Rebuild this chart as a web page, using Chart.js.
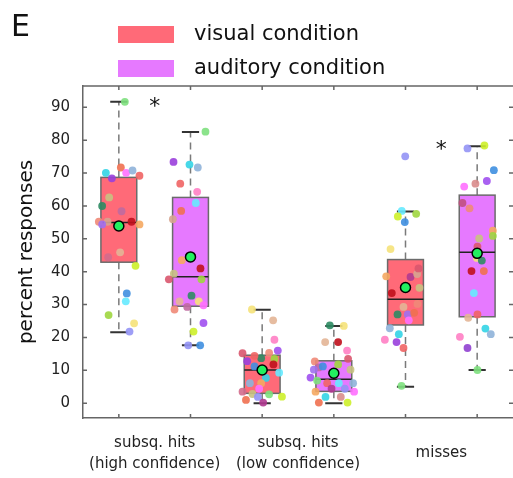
<!DOCTYPE html>
<html>
<head>
<meta charset="utf-8">
<script src="https://cdn.jsdelivr.net/npm/chart.js@4.4.1/dist/chart.umd.min.js"></script>
<style>
  html, body { margin: 0; padding: 0; background: #fff; }
  #wrap { width: 513px; height: 478px; }
</style>
</head>
<body>
<div id="wrap"><canvas id="chart"></canvas></div>
<script>
// categories and conditions
var categories = [["subsq. hits", "(high confidence)"], ["subsq. hits", "(low confidence)"], "misses"];
var conditions = ["visual condition", "auditory condition"];
var yTicks = [0, 10, 20, 30, 40, 50, 60, 70, 80, 90];

// box stats, order: vis/high, aud/high, vis/low, aud/low, vis/misses, aud/misses
var whiskerLow  = [21.6, 17.6, 0.0, 0.0, 5.0, 10.1];
var quart1      = [42.9, 29.5, 3.0, 3.6, 23.8, 26.3];
var medians     = [55.0, 38.5, 10.1, 7.3, 31.6, 45.9];
var quart3      = [68.7, 62.6, 14.6, 12.9, 43.7, 63.3];
var whiskerHigh = [91.7, 82.5, 28.4, 23.5, 58.3, 78.2];
var means       = [53.9, 44.5, 10.1, 9.1, 35.2, 45.6];

// significance stars: category index and height
var starCats = [0, 2];
var starVals = [91.3, 78.1];

// single participants (jitter = offset from box centre in axis units)
var ptsVal = [
  [91.7, 71.7, 70.1, 70.1, 70.8, 68.4, 69.2, 62.6, 60.0, 58.4, 55.2, 55.2, 54.4, 55.2, 54.4, 45.9, 44.4, 41.8, 33.4, 31.0, 26.8, 24.3, 21.8],
  [82.6, 73.4, 72.6, 71.7, 66.8, 64.3, 60.9, 58.5, 56.0, 43.5, 41.0, 39.4, 37.7, 37.7, 32.7, 31.0, 31.0, 28.5, 29.3, 29.8, 24.4, 21.8, 17.6, 17.6],
  [28.5, 25.2, 19.3, 16.0, 15.3, 13.7, 13.5, 11.8, 11.2, 9.3, 7.7, 6.1, 4.4, 2.7, 2.0, 2.8, 1.9, 0.2, 15.2, 14.4, 12.8, 6.1, 3.5, 1.0],
  [23.7, 23.5, 18.6, 18.6, 16.0, 13.5, 12.7, 11.8, 10.9, 11.2, 10.2, 10.2, 7.8, 6.9, 6.1, 6.1, 6.1, 4.4, 4.4, 3.5, 3.5, 1.9, 1.9, 0.2, 0.2],
  [75.1, 58.5, 56.8, 57.6, 55.1, 46.9, 38.6, 38.4, 39.3, 41.0, 33.5, 35.1, 29.3, 30.2, 27.0, 27.0, 27.5, 25.2, 22.8, 21.0, 19.3, 18.6, 16.8, 5.3],
  [78.4, 77.5, 70.9, 67.6, 66.8, 65.9, 60.9, 59.3, 52.5, 50.9, 50.1, 47.6, 44.2, 43.4, 40.2, 40.2, 33.5, 27.0, 26.0, 22.7, 21.0, 20.2, 16.8, 10.1]
];
var ptsJitter = [
  [0.084, 0.028, -0.181, 0.102, 0.191, -0.097, 0.288, -0.135, -0.233, 0.038, -0.279, -0.157, -0.233, 0.177, 0.288, 0.018, -0.149, 0.233, 0.111, 0.097, -0.143, 0.213, 0.149],
  [0.209, -0.237, -0.014, 0.102, -0.143, 0.093, 0.074, -0.130, -0.246, -0.121, 0.139, -0.232, -0.302, 0.153, 0.014, -0.153, 0.116, -0.223, -0.046, 0.181, 0.181, 0.042, -0.032, 0.135],
  [-0.143, 0.153, 0.171, 0.218, 0.097, -0.014, 0.171, 0.157, -0.107, 0.237, 0.052, -0.014, -0.042, 0.097, 0.276, -0.135, -0.060, 0.014, -0.274, -0.107, -0.209, -0.171, -0.274, -0.226],
  [-0.056, 0.139, -0.121, 0.060, 0.185, 0.199, -0.265, 0.060, -0.213, -0.153, 0.233, -0.279, -0.325, -0.233, -0.093, 0.070, 0.269, -0.032, 0.153, 0.283, -0.255, -0.116, 0.097, -0.209, 0.191],
  [-0.004, -0.052, -0.107, 0.149, -0.010, -0.209, -0.269, 0.070, 0.163, 0.181, -0.191, 0.195, -0.028, 0.167, -0.111, 0.032, 0.121, 0.046, -0.219, -0.093, -0.288, -0.125, -0.028, -0.056],
  [0.101, -0.135, 0.233, 0.135, -0.024, -0.181, -0.205, -0.107, 0.219, 0.219, 0.028, 0.004, -0.004, 0.065, -0.079, 0.093, -0.046, 0.004, -0.125, 0.115, 0.190, -0.241, -0.135, 0.004]
];
var ptsColor = [
  ["#7ee07e", "#f07050", "#33d4e6", "#ff70ff", "#8fb3d9", "#9a3fdc", "#f06464", "#c8c282", "#2e8b63", "#c06aa0", "#f08a78", "#d6a48f", "#a070f0", "#c0101c", "#f5a862", "#e3b596", "#d36c8c", "#cdf02a", "#3f8fe0", "#66eaff", "#9fd63f", "#f5e27a", "#9393f5"],
  ["#7ee07e", "#9a3fdc", "#33d4e6", "#8fb3d9", "#f06464", "#ff7fc4", "#66eaff", "#f07050", "#d6a48f", "#f5a862", "#c0101c", "#c8c282", "#d9566e", "#9fd63f", "#2e8b63", "#e3b596", "#f5e27a", "#f08a78", "#c06aa0", "#ff70ff", "#a050f0", "#cdf02a", "#9393f5", "#3f8fe0"],
  ["#f5e27a", "#e3b596", "#ff7fc4", "#a050f0", "#f08a78", "#2e8b63", "#9fd63f", "#c0101c", "#3f8fe0", "#66eaff", "#33d4e6", "#f5a862", "#ff70ff", "#7ee07e", "#cdf02a", "#c8c282", "#9393f5", "#b03a90", "#d9566e", "#f06464", "#9a3fdc", "#8fb3d9", "#d36c8c", "#f07050"],
  ["#2e8b63", "#f5e27a", "#e3b596", "#c0101c", "#ff7fc4", "#d9566e", "#f08a78", "#9fd63f", "#c06aa0", "#3f8fe0", "#c8c282", "#a070f0", "#a050f0", "#7ee07e", "#f06464", "#66eaff", "#8fb3d9", "#b03a90", "#9393f5", "#ff70ff", "#f5a862", "#33d4e6", "#d98c8c", "#f07050", "#cdf02a"],
  ["#9393f5", "#66eaff", "#cdf02a", "#9fd63f", "#3f8fe0", "#f5e27a", "#f5a862", "#b03a90", "#d6a48f", "#d9566e", "#c0101c", "#c8c282", "#e3b596", "#f08a78", "#2e8b63", "#a070f0", "#f07050", "#ff70ff", "#8fb3d9", "#33d4e6", "#ff7fc4", "#9a3fdc", "#f06464", "#7ee07e"],
  ["#cdf02a", "#9393f5", "#3f8fe0", "#a050f0", "#d98c8c", "#ff70ff", "#c05080", "#f08a78", "#f5a862", "#9fd63f", "#c8c282", "#d9566e", "#f5e27a", "#2e8b63", "#c0101c", "#f07050", "#66eaff", "#f06464", "#e3b596", "#33d4e6", "#8fb3d9", "#ff7fc4", "#9040d0", "#7ee07e"]
];

var condColors = ["#ff6a78", "#e679ff"];
var FONT = "'DejaVu Sans', Verdana, sans-serif";

var datasets = [];
datasets.push({
    label: "mean",
    data: means.map(function (m, i) { return { x: i + 1, y: m }; }),
    pointRadius: 5,
    pointBackgroundColor: "#22f060",
    pointBorderColor: "#000",
    pointBorderWidth: 1.5,
    order: 0
});
ptsVal.forEach(function (vals, b) {
    datasets.push({
        label: "box" + b,
        data: vals.map(function (v, j) { return { x: b + 1 + ptsJitter[b][j], y: v }; }),
        pointRadius: 3.9,
        pointBorderWidth: 0,
        pointBackgroundColor: ptsColor[b].map(function (c) { return c + "e6"; }),
        order: 1
    });
});

var boxPlugin = {
    id: "boxes",
    beforeDatasetsDraw: function (chart) {
        var c = chart.ctx, xs = chart.scales.x, ys = chart.scales.y;
        c.save();
        for (var i = 0; i < medians.length; i++) {
            var cx = xs.getPixelForValue(i + 1);
            var x0 = xs.getPixelForValue(i + 0.75), x1 = xs.getPixelForValue(i + 1.25);
            var k0 = xs.getPixelForValue(i + 0.88), k1 = xs.getPixelForValue(i + 1.12);
            // whiskers
            c.strokeStyle = "#7a7a7a";
            c.lineWidth = 1.5;
            c.setLineDash([7, 5]);
            c.beginPath();
            c.moveTo(cx, ys.getPixelForValue(quart3[i]));
            c.lineTo(cx, ys.getPixelForValue(whiskerHigh[i]));
            c.moveTo(cx, ys.getPixelForValue(quart1[i]));
            c.lineTo(cx, ys.getPixelForValue(whiskerLow[i]));
            c.stroke();
            c.setLineDash([]);
            c.strokeStyle = "#333";
            c.lineWidth = 2;
            c.beginPath();
            c.moveTo(k0, ys.getPixelForValue(whiskerHigh[i]));
            c.lineTo(k1, ys.getPixelForValue(whiskerHigh[i]));
            c.moveTo(k0, ys.getPixelForValue(whiskerLow[i]));
            c.lineTo(k1, ys.getPixelForValue(whiskerLow[i]));
            c.stroke();
            // box
            var top = ys.getPixelForValue(quart3[i]), bot = ys.getPixelForValue(quart1[i]);
            c.fillStyle = condColors[i % 2];
            c.fillRect(x0, top, x1 - x0, bot - top);
            c.strokeStyle = "#6b6b6b";
            c.lineWidth = 1.5;
            c.strokeRect(x0, top, x1 - x0, bot - top);
            c.strokeStyle = "#222";
            c.beginPath();
            c.moveTo(x0, ys.getPixelForValue(medians[i]));
            c.lineTo(x1, ys.getPixelForValue(medians[i]));
            c.stroke();
        }
        c.restore();
    },
    afterDraw: function (chart) {
        var c = chart.ctx, xs = chart.scales.x, ys = chart.scales.y, a = chart.chartArea;
        c.save();
        // frame top + inward ticks
        c.strokeStyle = "#666";
        c.lineWidth = 1.5;
        c.beginPath();
        c.moveTo(a.left, a.top);
        c.lineTo(a.right, a.top);
        for (var i = 1; i <= 6; i++) {
            var px = xs.getPixelForValue(i);
            c.moveTo(px, a.top); c.lineTo(px, a.top + 4);
            c.moveTo(px, a.bottom); c.lineTo(px, a.bottom - 4);
        }
        yTicks.forEach(function (v) {
            var py = ys.getPixelForValue(v);
            c.moveTo(a.left, py); c.lineTo(a.left + 4, py);
            c.moveTo(a.right, py); c.lineTo(a.right - 4, py);
        });
        c.stroke();
        // stars
        c.fillStyle = "#111";
        c.font = "22px " + FONT;
        c.textAlign = "center";
        c.textBaseline = "middle";
        starCats.forEach(function (k, j) {
            c.fillText("*", xs.getPixelForValue(2 * k + 1.5), ys.getPixelForValue(starVals[j]) + 4);
        });
        // panel letter
        c.textAlign = "left";
        c.textBaseline = "alphabetic";
        c.font = "30px " + FONT;
        c.fillText("E", 11, 36);
        // legend
        c.font = "21px " + FONT;
        c.textBaseline = "middle";
        conditions.forEach(function (name, j) {
            var y = 26 + j * 34;
            c.fillStyle = condColors[j];
            c.fillRect(118, y, 56, 17);
            c.fillStyle = "#111";
            c.fillText(name, 194, y + 9);
        });
        c.restore();
    }
};

new Chart(document.getElementById("chart").getContext("2d"), {
    type: "scatter",
    data: { datasets: datasets },
    plugins: [boxPlugin],
    options: {
        responsive: true,
        maintainAspectRatio: false,
        animation: false,
        layout: { autoPadding: false, padding: { top: 86, left: 0, right: 0, bottom: 0 } },
        plugins: { legend: { display: false }, tooltip: { enabled: false } },
        scales: {
            x: {
                type: "linear",
                min: 0.5,
                max: 6.5,
                grid: { display: false, drawTicks: false },
                border: { display: true, color: "#666", width: 1.5 },
                afterBuildTicks: function (s) { s.ticks = [{ value: 1.5 }, { value: 3.5 }, { value: 5.5 }]; },
                afterFit: function (s) { s.height = 60; },
                ticks: {
                    autoSkip: false,
                    maxRotation: 0,
                    padding: 25,
                    crossAlign: "center",
                    color: "#222",
                    font: { family: FONT, size: 15, lineHeight: 1.4 },
                    callback: function (v) { return categories[Math.round((v - 1.5) / 2)]; }
                }
            },
            y: {
                min: -4.5,
                max: 96.5,
                grid: { display: false, drawTicks: false },
                border: { display: true, color: "#666", width: 1.5 },
                afterBuildTicks: function (s) { s.ticks = yTicks.map(function (v) { return { value: v }; }); },
                afterFit: function (s) { s.width = 83; },
                ticks: { padding: 13, color: "#222", font: { family: FONT, size: 15 } },
                title: {
                    display: true,
                    text: "percent responses",
                    color: "#111",
                    font: { family: FONT, size: 20 },
                    padding: { top: 15, bottom: 0 }
                }
            }
        }
    }
});
</script>
</body>
</html>
